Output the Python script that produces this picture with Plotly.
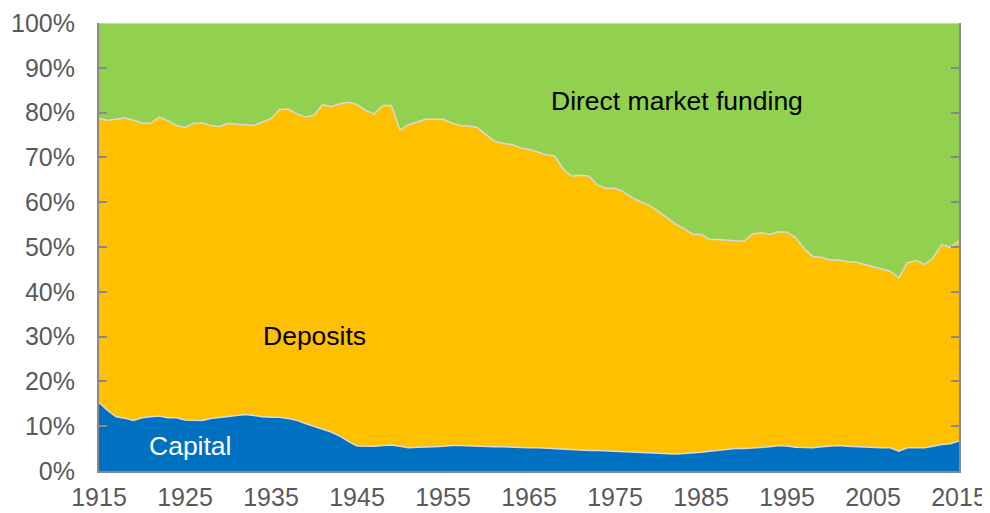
import plotly.graph_objects as go

years = list(range(1915, 2016))

capital = [
    15.3, 13.5, 12.1, 11.8, 11.3, 11.9, 12.1, 12.3, 11.9, 11.9,
    11.4, 11.4, 11.3, 11.7, 11.9, 12.1, 12.4, 12.6, 12.4, 12.1,
    12.0, 12.0, 11.7, 11.3, 10.6, 10.0, 9.3, 8.7, 7.8, 6.6,
    5.6, 5.5, 5.5, 5.7, 5.8, 5.5, 5.2, 5.3, 5.3, 5.4,
    5.5, 5.7, 5.7, 5.6, 5.5, 5.4, 5.4, 5.4, 5.3, 5.3,
    5.2, 5.2, 5.1, 5.0, 4.8, 4.7, 4.7, 4.6, 4.6, 4.5,
    4.4, 4.3, 4.2, 4.1, 4.0, 4.0, 3.9, 3.8, 3.9, 4.0,
    4.2, 4.4, 4.6, 4.8, 5.0, 5.0, 5.1, 5.2, 5.4, 5.7,
    5.6, 5.3, 5.2, 5.2, 5.4, 5.6, 5.7, 5.5, 5.4, 5.3,
    5.3, 5.2, 5.2, 4.4, 5.2, 5.2, 5.2, 5.5, 5.9, 6.1,
    6.7,
]

deposits = [
    63.4, 64.8, 66.4, 67.0, 67.0, 65.8, 65.5, 66.7, 66.3, 65.2,
    65.3, 66.2, 66.4, 65.4, 65.0, 65.5, 65.0, 64.7, 64.7, 65.8,
    66.7, 68.7, 69.1, 68.4, 68.4, 69.4, 72.5, 72.6, 74.2, 75.7,
    76.2, 75.0, 74.2, 75.9, 75.8, 70.6, 72.1, 72.6, 73.2, 73.1,
    73.0, 72.0, 71.4, 71.4, 71.2, 69.7, 68.2, 67.7, 67.6, 66.8,
    66.6, 66.0, 65.5, 65.3, 62.5, 61.1, 61.3, 61.2, 59.2, 58.6,
    58.7, 58.0, 56.8, 56.0, 55.3, 54.0, 52.6, 51.4, 50.2, 48.9,
    48.6, 47.3, 47.1, 46.7, 46.4, 46.3, 47.8, 48.0, 47.4, 47.7,
    47.7, 46.8, 44.4, 42.7, 42.3, 41.5, 41.4, 41.2, 41.3, 40.8,
    40.3, 40.0, 39.4, 38.7, 41.3, 41.8, 40.9, 42.1, 44.7, 43.8,
    44.7,
]

direct_market = [
    21.3, 21.7, 21.5, 21.2, 21.7, 22.3, 22.4, 21.0, 21.8, 22.9,
    23.3, 22.4, 22.3, 22.9, 23.1, 22.4, 22.6, 22.7, 22.9, 22.1,
    21.3, 19.3, 19.2, 20.3, 21.0, 20.6, 18.2, 18.7, 18.0, 17.7,
    18.2, 19.5, 20.3, 18.4, 18.4, 23.9, 22.7, 22.1, 21.5, 21.5,
    21.5, 22.3, 22.9, 23.0, 23.3, 24.9, 26.4, 26.9, 27.1, 27.9,
    28.2, 28.8, 29.4, 29.7, 32.7, 34.2, 34.0, 34.2, 36.2, 36.9,
    36.9, 37.7, 39.0, 39.9, 40.7, 42.0, 43.5, 44.8, 45.9, 47.1,
    47.2, 48.3, 48.3, 48.5, 48.6, 48.7, 47.1, 46.8, 47.2, 46.6,
    46.7, 47.9, 50.4, 52.1, 52.3, 52.9, 52.9, 53.3, 53.3, 53.9,
    54.4, 54.8, 55.4, 56.9, 53.5, 53.0, 53.9, 52.4, 49.4, 50.1,
    48.6,
]

x_tick_years = list(range(1915, 2016, 10))
y_tick_values = list(range(0, 101, 10))
y_tick_labels = [f"{v}%" for v in y_tick_values]

series = [
    ("Capital", capital, "#0070C0"),
    ("Deposits", deposits, "#FFC000"),
    ("Direct market funding", direct_market, "#92D050"),
]

fig = go.Figure()
for name, vals, color in series:
    fig.add_trace(go.Scatter(
        x=years, y=vals, name=name, mode="lines",
        stackgroup="one",
        line=dict(color="#D9D9D9", width=1.5),
        fillcolor=color,
        hoverinfo="x+y+name",
    ))

font_family = "Liberation Sans, Arial, sans-serif"
label_size = 26.5

fig.add_annotation(x=1982.2, y=82.7, text="Direct market funding", showarrow=False,
                   font=dict(family=font_family, size=label_size, color="#000000"))
fig.add_annotation(x=1940.1, y=30.2, text="Deposits", showarrow=False,
                   font=dict(family=font_family, size=label_size, color="#000000"))
fig.add_annotation(x=1925.6, y=5.5, text="Capital", showarrow=False,
                   font=dict(family=font_family, size=label_size, color="#FFFFFF"))

# the page body adds an 8px margin, so the figure is sized to fit the 990x513 window
fig.update_layout(
    width=982, height=505,
    margin=dict(l=91, r=31, t=15, b=42, autoexpand=False),
    paper_bgcolor="white", plot_bgcolor="white",
    showlegend=False,
    font=dict(family=font_family, size=25, color="#595959"),
    xaxis=dict(
        range=[1915, 2015], tickmode="array", tickvals=x_tick_years,
        ticktext=[str(y) for y in x_tick_years],
        showgrid=False, zeroline=False, showline=True,
        linecolor="#898989", linewidth=2, ticks="",
        ticklabelstandoff=3, automargin=False,
        tickfont=dict(family=font_family, size=25, color="#595959"),
    ),
    yaxis=dict(
        range=[0, 100], tickmode="array", tickvals=y_tick_values,
        ticktext=y_tick_labels,
        showgrid=False, zeroline=False, showline=True,
        linecolor="#898989", linewidth=2, mirror="ticks",
        ticks="inside", ticklen=8, tickwidth=2, tickcolor="#898989",
        ticklabelstandoff=17, automargin=False,
        tickfont=dict(family=font_family, size=25, color="#595959"),
    ),
)

fig.write_html("out.html")
